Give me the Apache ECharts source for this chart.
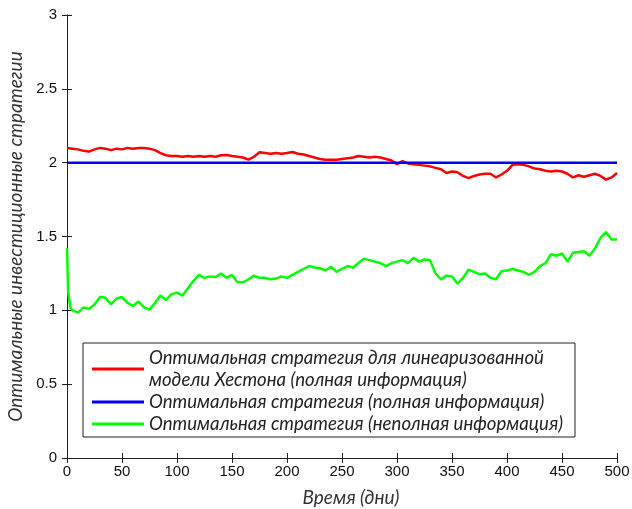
<!DOCTYPE html>
<html><head><meta charset="utf-8">
<script src="https://cdn.jsdelivr.net/npm/echarts@6/dist/echarts.min.js"></script>
<style>html,body{margin:0;padding:0;background:#fff}#c{width:632px;height:509px}</style>
</head><body><div id="c"></div>
<script>
const redDays = [0,5,10,15,20,25,30,35,40,45,50,55,60,65,70,75,80,85,90,95,100,105,110,115,120,125,130,135,140,145,150,155,160,165,170,175,180,185,190,195,200,205,210,215,220,225,230,235,240,245,250,255,260,265,270,275,280,285,290,295,300,305,310,315,320,325,330,335,340,345,350,355,360,365,370,375,380,385,390,395,400,405,410,415,420,425,430,435,440,445,450,455,460,465,470,475,480,485,490,495,500];
const redValues = [2.10,2.095,2.09,2.08,2.075,2.09,2.10,2.095,2.085,2.095,2.09,2.10,2.095,2.10,2.10,2.095,2.085,2.065,2.05,2.045,2.045,2.04,2.045,2.04,2.045,2.04,2.045,2.04,2.05,2.052,2.045,2.04,2.035,2.02,2.04,2.07,2.065,2.06,2.065,2.06,2.065,2.072,2.06,2.055,2.045,2.035,2.025,2.02,2.02,2.02,2.025,2.03,2.035,2.045,2.04,2.035,2.04,2.035,2.025,2.015,1.99,2.01,1.995,1.99,1.985,1.98,1.975,1.965,1.955,1.93,1.94,1.935,1.91,1.895,1.91,1.92,1.925,1.925,1.90,1.92,1.945,1.985,1.99,1.985,1.975,1.96,1.955,1.945,1.94,1.945,1.94,1.925,1.90,1.915,1.905,1.915,1.925,1.91,1.885,1.90,1.93];
const blueDays = [0,500];
const blueValues = [2,2];
const greenDays = [0,1,3,5,10,15,20,25,30,35,40,45,50,55,60,65,70,75,80,85,90,95,100,105,110,115,120,125,130,135,140,145,150,155,160,165,170,175,180,185,190,195,200,205,210,215,220,225,230,235,240,245,250,255,260,265,270,275,280,285,290,295,300,305,310,315,320,325,330,335,340,345,350,355,360,365,370,375,380,385,390,395,400,405,410,415,420,425,430,435,440,445,450,455,460,465,470,475,480,485,490,495,500];
const greenValues = [1.42,1.13,1.02,1.00,0.985,1.02,1.01,1.04,1.09,1.085,1.04,1.08,1.09,1.05,1.03,1.06,1.02,1.005,1.05,1.10,1.07,1.11,1.12,1.10,1.15,1.20,1.24,1.22,1.23,1.225,1.25,1.22,1.24,1.19,1.19,1.21,1.235,1.22,1.22,1.21,1.215,1.23,1.22,1.24,1.26,1.28,1.30,1.29,1.285,1.27,1.295,1.26,1.28,1.30,1.29,1.32,1.35,1.34,1.33,1.32,1.30,1.32,1.33,1.34,1.32,1.355,1.33,1.345,1.34,1.25,1.21,1.235,1.23,1.18,1.22,1.275,1.26,1.245,1.25,1.22,1.21,1.265,1.27,1.28,1.27,1.26,1.24,1.26,1.30,1.32,1.38,1.37,1.385,1.33,1.39,1.395,1.40,1.37,1.42,1.49,1.53,1.48,1.48];
const xTicks = [0,50,100,150,200,250,300,350,400,450,500];
const yTicks = [0,0.5,1,1.5,2,2.5,3];
const seriesNames = [
  'Оптимальная стратегия для линеаризованной\nмодели Хестона (полная информация)',
  'Оптимальная стратегия (полная информация)',
  'Оптимальная стратегия (неполная информация)'
];
const zip = (a,b) => a.map((v,i)=>[v,b[i]]);
const chart = echarts.init(document.getElementById('c'));
const tickFont = {fontFamily:'Liberation Sans', fontSize:15, color:'#111'};
chart.setOption({
  animation:false,
  grid:{left:67,right:15,top:15,bottom:51,containLabel:false,outerBoundsMode:'none'},
  legend:{
    orient:'vertical', left:83, top:343, itemGap:0, itemWidth:52, itemHeight:3,
    icon:'rect', padding:[4,12,2,9], borderColor:'#222', borderWidth:1, backgroundColor:'#fff',
    textStyle:{fontFamily:'Lato', fontStyle:'italic', fontSize:18.6, color:'#222', lineHeight:22},
    data:seriesNames
  },
  xAxis:[{
    type:'value', min:0, max:500, interval:50,
    axisLine:{lineStyle:{color:'#222'}}, axisTick:{inside:true,length:5,lineStyle:{color:'#222'}},
    axisLabel:Object.assign({margin:6, formatter:v=>xTicks.includes(v)?String(v):''},tickFont),
    splitLine:{show:false},
    name:'Время (дни)', nameLocation:'middle', nameGap:30,
    nameTextStyle:{fontFamily:'Lato', fontStyle:'italic', fontSize:19, color:'#333', padding:[0,0,0,18]}
  },{
    type:'value', position:'top', min:0, max:500, interval:50,
    axisLine:{show:true,lineStyle:{color:'#222'}}, axisTick:{show:true,inside:true,length:5,lineStyle:{color:'#222'}},
    axisLabel:{show:false}, splitLine:{show:false}
  }],
  yAxis:[{
    type:'value', min:0, max:3, interval:0.5,
    axisLine:{show:true,lineStyle:{color:'#222'}}, axisTick:{show:true,inside:true,length:5,lineStyle:{color:'#222'}},
    axisLabel:Object.assign({margin:10, formatter:v=>yTicks.includes(v)?String(v):''},tickFont),
    splitLine:{show:false},
    name:'Оптимальные инвестиционные стратегии', nameLocation:'middle', nameGap:40,
    nameTextStyle:{fontFamily:'Lato', fontStyle:'italic', fontSize:19, color:'#333'}
  },{
    type:'value', position:'right', min:0, max:3, interval:0.5,
    axisLine:{show:true,lineStyle:{color:'#222'}}, axisTick:{show:true,inside:true,length:5,lineStyle:{color:'#222'}},
    axisLabel:{show:false}, splitLine:{show:false}
  }],
  series:[
    {name:seriesNames[0], type:'line', data:zip(redDays,redValues), showSymbol:false, color:'#ff0000', lineStyle:{width:2.5,color:'#ff0000'}, z:3},
    {name:seriesNames[1], type:'line', data:zip(blueDays,blueValues), showSymbol:false, color:'#0000ff', lineStyle:{width:2.5,color:'#0000ff'}, z:4},
    {name:seriesNames[2], type:'line', data:zip(greenDays,greenValues), showSymbol:false, color:'#00ff00', lineStyle:{width:2.5,color:'#00ff00'}, z:3}
  ]
});
</script></body></html>
